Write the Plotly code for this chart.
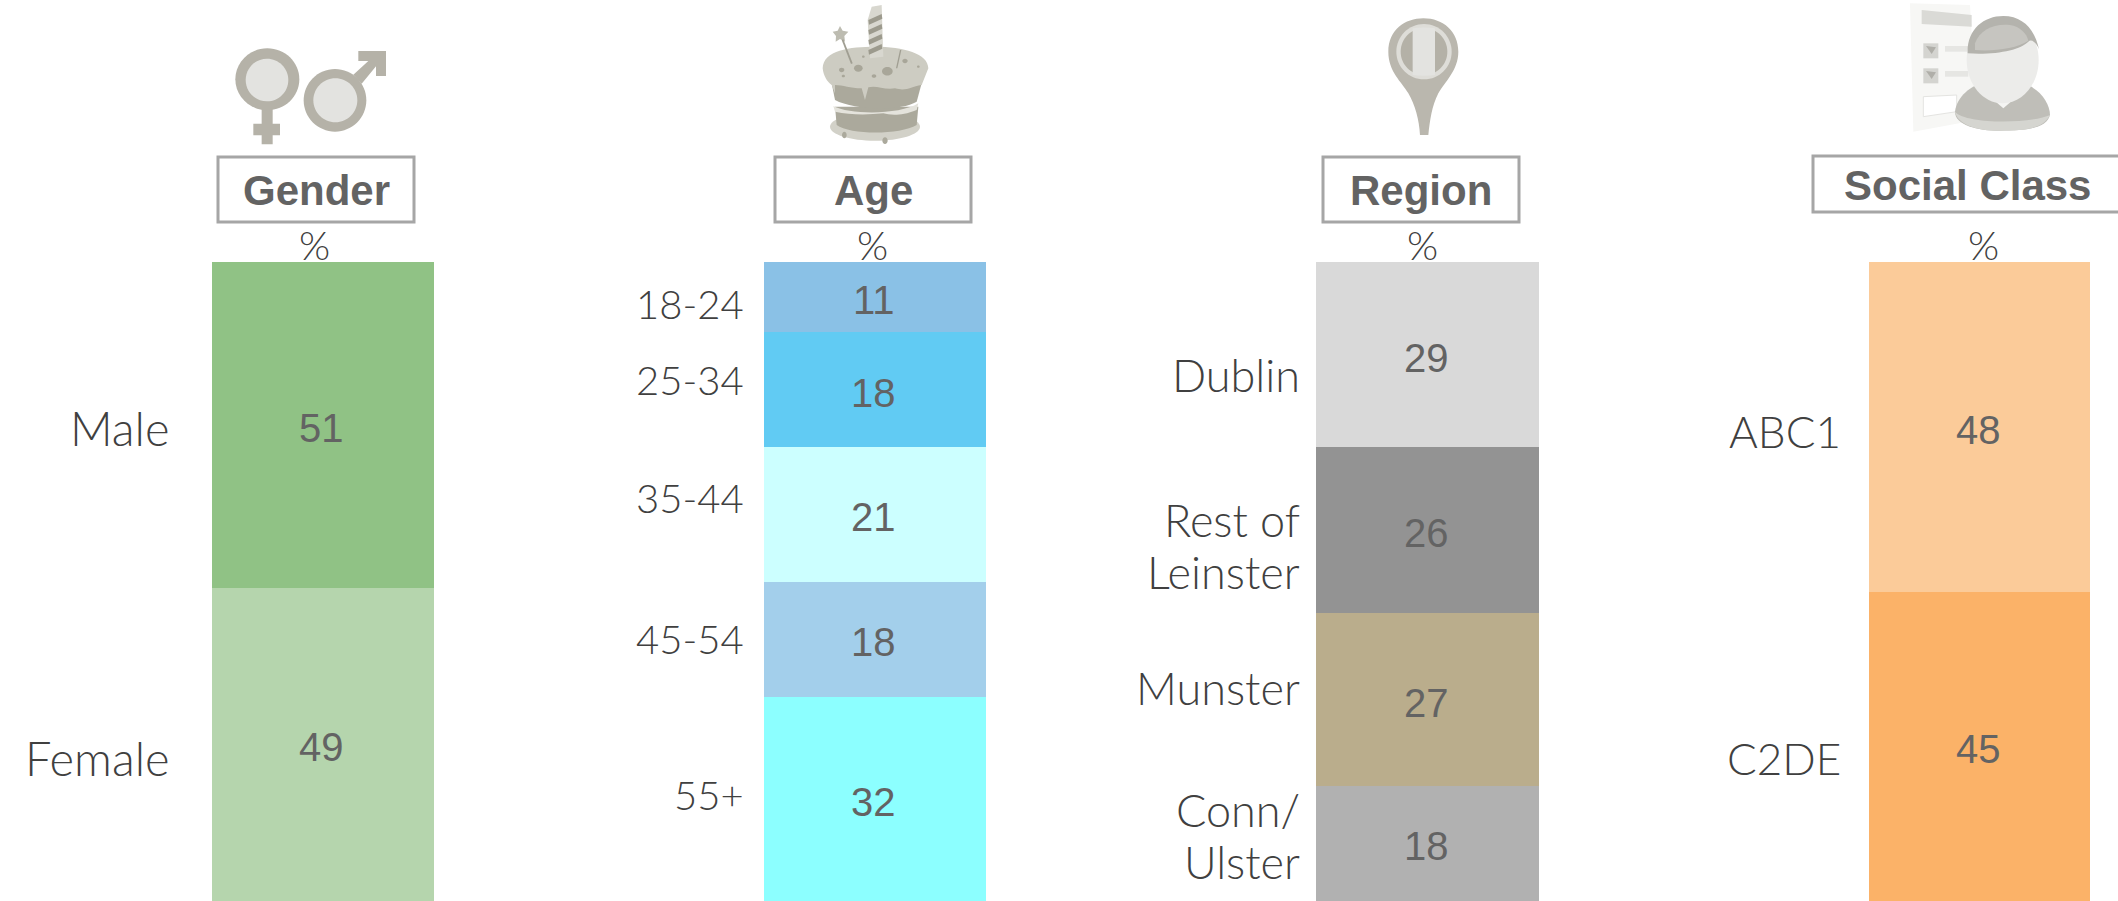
import re
import plotly.graph_objects as go

W, H = 2118, 901

gender_labels = ["Male", "Female"]
gender_values = [51, 49]
age_labels = ["18-24", "25-34", "35-44", "45-54", "55+"]
age_values = [11, 18, 21, 18, 32]
region_labels = ["Dublin", "Rest of<br>Leinster", "Munster", "Conn/<br>Ulster"]
region_values = [29, 26, 27, 18]
social_labels = ["ABC1", "C2DE"]
social_values = [48, 45]
titles = ["Gender", "Age", "Region", "Social Class"]

gender_colors = ["#90C285", "#B5D5AD"]
age_colors = ["#8AC1E6", "#61CBF3", "#CCFFFF", "#A3CFEB", "#8CFFFF"]
region_colors = ["#D9D9D9", "#939393", "#BAAD8C", "#B1B1B1"]
social_colors = ["#FBCB99", "#FBB268"]

TXT = "#636363"
LAB = "#404040"
LABEL_FONT = "Lato"
fig = go.Figure()

panels = [
    (gender_labels, gender_values, gender_colors, 212, 434),
    (age_labels, age_values, age_colors, 764, 986),
    (region_labels, region_values, region_colors, 1316, 1539),
    (social_labels, social_values, social_colors, 1869, 2090),
]
layout = {}
ann = []
for i, (labs, vals, cols, x0, x1) in enumerate(panels):
    s = "" if i == 0 else str(i + 1)
    base = 0
    for lab, v, c in zip(labs, vals, cols):
        fig.add_trace(go.Bar(
            x=[titles[i]], y=[v], name=lab.replace("<br>", " "), xaxis="x" + s, yaxis="y" + s,
            marker=dict(color=c, line=dict(width=0)), showlegend=False))
        ann.append(dict(x=titles[i], y=base + v / 2, xref="x" + s, yref="y" + s, text=str(v), showarrow=False,
                        yshift=-3, xshift=-1.5, font=dict(family="Liberation Sans", size=40, color=TXT)))
        base += v
    layout["xaxis" + s] = dict(domain=[x0 / W, x1 / W], visible=False, anchor="y" + s)
    layout["yaxis" + s] = dict(domain=[0, 1 - 262 / H], range=[sum(vals), 0], visible=False, anchor="x" + s)


def X(v):
    return v / W


def Y(v):
    return 1 - v / H


def text(x, y, s, size, color, anchor="center", family=LABEL_FONT, weight=None):
    font = dict(family=family, size=size, color=color)
    if weight:
        font["weight"] = weight
    return dict(x=X(x), y=Y(y), xref="paper", yref="paper", text=s, showarrow=False, xanchor=anchor,
                yanchor="middle", font=font, align="right")


label_pos = [
    (172, [428, 758], 47),
    (746, [304, 380, 498, 639, 795], 40),
    (1302, [375, 546, 688, 836], 45),
    (1843, [431, 758], 44),
]
for (labs, *_), (xr, ys, size) in zip(panels, label_pos):
    for lab, y in zip(labs, ys):
        parts = lab.split("<br>")
        for k, part in enumerate(parts):
            ann.append(text(xr, y + (k - (len(parts) - 1) / 2) * 52, part, size, LAB, anchor="right", weight=300))
for x in [314, 872, 1422, 1983]:
    ann.append(text(x, 245, "%", 40, LAB, weight=300))
for x, y, t in zip([316, 873, 1421, 1967], [190, 190, 190, 186], titles):
    ann.append(text(x, y, t, 42, TXT, family="Liberation Sans", weight=700))

shapes = []
BOX = "#A6A6A6"
for x0, y0, x1, y1 in [(218, 157, 414, 222), (775, 157, 971, 222), (1323, 157, 1519, 222), (1813, 156, 2130, 212)]:
    shapes.append(dict(type="rect", xref="paper", yref="paper", x0=X(x0), x1=X(x1), y0=Y(y0), y1=Y(y1),
                       line=dict(color=BOX, width=3), fillcolor="white", layer="below"))


def path(d, ox, oy, fill, line=None, lw=0):
    toks = re.findall(r"[MLCQZ]|-?\d+\.?\d*", d)
    out = []
    is_x = True
    for t in toks:
        if t.isalpha():
            out.append(t)
            is_x = True
        else:
            v = float(t) / 3
            if is_x:
                out.append(f"{X(ox + v):.5f}")
            else:
                out.append(f"{Y(oy + v):.5f}")
            is_x = not is_x
    shapes.append(dict(type="path", xref="paper", yref="paper", path=" ".join(out), fillcolor=fill,
                       line=dict(color=line or fill, width=lw), layer="above"))


def ell(cx, cy, rx, ry, ox, oy, fill):
    k = 0.5523
    d = (f"M {cx-rx} {cy} C {cx-rx} {cy-k*ry} {cx-k*rx} {cy-ry} {cx} {cy-ry} "
         f"C {cx+k*rx} {cy-ry} {cx+rx} {cy-k*ry} {cx+rx} {cy} "
         f"C {cx+rx} {cy+k*ry} {cx+k*rx} {cy+ry} {cx} {cy+ry} "
         f"C {cx-k*rx} {cy+ry} {cx-rx} {cy+k*ry} {cx-rx} {cy} Z")
    path(d, ox, oy, fill)


# gender icon
O = (220, 32)
RING, PALE = "#B5B2A8", "#E3E3E0"
path("M 125 225 L 158 225 L 158 275 L 180 275 L 180 310 L 158 310 L 158 337 L 125 337 L 125 310 L 100 310 L 100 275 L 125 275 Z", *O, RING)
ell(142, 142, 96, 93, *O, RING)
ell(141, 144, 64, 64, *O, PALE)
path("M 415 57 L 498 57 L 498 132 L 468 132 L 468 103 L 425 155 L 400 128 L 445 87 L 415 87 Z", *O, RING)
ell(345, 205, 94, 94, *O, RING)
ell(346, 205, 66, 66, *O, PALE)

# cake icon
O = (800, 0)
C1, C2, C3 = "#CDCCC2", "#ABA99C", "#E4E3DC"
ell(225, 380, 135, 42, *O, "#D2D1C8")
ell(133, 405, 7, 10, *O, C2)
ell(255, 422, 8, 10, *O, C2)
path("M 105 320 L 355 320 L 350 375 C 300 405 150 405 110 375 Z", *O, C2)
path("M 100 318 C 150 345 300 345 355 310 L 350 330 C 300 350 270 345 250 340 C 200 345 150 345 105 335 Z", *O, C3)
path("M 95 250 L 365 250 L 350 305 C 300 335 160 330 105 300 Z", *O, C2)
path("M 68 205 C 70 150 150 140 225 140 C 310 140 385 160 385 205 L 365 255 C 330 260 320 275 285 265 C 250 270 230 255 205 262 L 195 300 L 185 265 C 150 265 130 255 105 255 L 105 280 L 95 255 C 80 245 70 225 68 205 Z", *O, C1)
path("M 215 20 L 245 15 L 250 170 L 210 175 L 203 60 Z", *O, "#D8D7CF")
for y in [60, 90, 120, 150]:
    path(f"M 205 {y} L 245 {y-18} L 247 {y-4} L 207 {y+14} Z", *O, "#9C9A8D")
path("M 98 95 L 113 92 L 120 78 L 128 92 L 145 95 L 133 108 L 135 125 L 120 117 L 107 125 L 108 108 Z", *O, "#BDBCB1")
path("M 125 120 L 130 118 L 158 190 L 153 192 Z", *O, "#A09E92")
path("M 300 150 L 304 150 L 292 205 L 288 205 Z", *O, "#A09E92")
for cx, cy, r in [(175, 205, 13), (262, 214, 16), (125, 210, 8), (315, 183, 8), (222, 228, 7), (130, 228, 5), (355, 200, 4), (190, 170, 4)]:
    ell(cx, cy, r, r * 0.8, *O, "#A8A699")

# pin icon
O = (1370, 10)
PIN = "#BAB7AE"
path("M 55 125 C 55 60 105 25 160 25 C 220 25 265 65 265 125 C 265 180 225 215 205 250 C 185 290 180 330 175 375 L 150 375 C 148 330 135 285 115 250 C 95 215 55 185 55 125 Z", *O, PIN)
ell(162, 125, 83, 83, *O, "#DEDDD8")
ell(162, 125, 70, 70, *O, "#B4B1A7")
path("M 128 55 C 150 52 175 52 195 55 L 195 195 C 175 198 150 198 128 195 Z", *O, "#E3E3E0")

# social icon
O = (1900, 0)
path("M 30 10 L 210 15 L 230 360 L 40 395 Z", *O, "#F7F7F5")
path("M 65 30 L 215 45 L 215 80 L 65 72 Z", *O, "#DADAD6")
for y in [130, 205]:
    path(f"M 70 {y} L 115 {y} L 115 {y+45} L 70 {y+45} Z", *O, "#D4D4D0")
    path(f"M 78 {y+8} L 108 {y+12} L 95 {y+32} Z", *O, "#B0AFA9")
    path(f"M 135 {y+8} L 205 {y+8} L 205 {y+25} L 135 {y+25} Z", *O, "#E6E6E3")
path("M 70 290 L 170 285 L 170 335 L 70 350 Z", *O, "#FFFFFF", line="#E4E4E1", lw=1)
path("M 165 335 C 170 290 215 255 250 250 L 370 250 C 420 265 450 310 450 345 C 440 385 380 392 300 392 C 230 392 165 375 165 335 Z", *O, "#BFBEB8")
path("M 165 335 C 200 375 400 370 450 345 C 430 385 380 392 300 392 C 230 392 175 375 165 335 Z", *O, "#D5D5D0")
path("M 275 295 L 345 295 L 310 325 Z", *O, "#F5F5F3")
ell(308, 180, 108, 130, *O, "#ECECEA")
path("M 203 160 C 200 90 250 48 310 48 C 370 48 405 90 417 148 C 410 130 395 115 385 125 C 360 150 290 165 203 160 Z", *O, "#B4B3AD")
path("M 225 130 C 240 90 280 70 330 75 C 360 80 380 100 385 122 C 350 145 280 155 225 150 Z", *O, "#C6C5C0")

fig.update_layout(
    width=W, height=H, margin=dict(l=0, r=0, t=0, b=0), paper_bgcolor="white", plot_bgcolor="white",
    barmode="stack", bargap=0, annotations=ann, shapes=shapes, **layout)
fig.write_html("out.html", config={"displayModeBar": False},
               post_script="document.body.style.margin='0';document.documentElement.style.overflow='hidden';")
